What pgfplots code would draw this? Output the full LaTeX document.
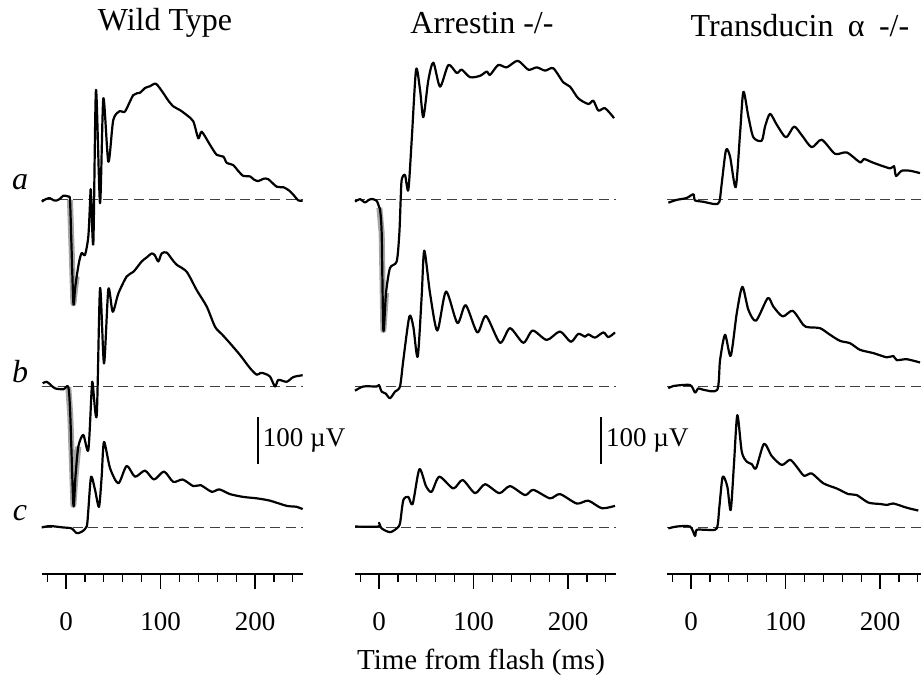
\documentclass[border=0pt]{standalone}
\usepackage{pgfplots}
\pgfplotsset{compat=1.18}
\usepackage{pgfplotstable}
\usepackage{fontspec}
\setmainfont{Liberation Serif}

% ---------- Wild Type ----------
\pgfplotstableread{
t v
-25.7 -3.6
-21 2
-17 3.6
-13 -1
-9.9 -1.4
-6 3
-2.8 9
2.5 7
4.2 0
5.5 -80
7.8 -220
9.5 -190
11.3 -163
14 -130
16.6 -113
20.1 -117
23.6 -78
25.4 -7
26.3 21
28.9 -92
31.7 234
36 -7
39.5 216
44.8 81
50 170
57 189
62.4 188
71.2 223
78.3 228
83.6 238
89 242
95.2 247
103 227
108 212
113.5 199
120.6 191
128 180
134.7 167
140 131
143.6 145
152.4 117
159.4 96
166.5 92
170 79
177 74
182 62
187.6 51
194.7 50
199 43
203.5 40
209 45
214 44
223 28
230 27
236 20
240.5 11
245.8 -1
250.4 -2
}\WTa
\pgfplotstableread{
t v
-24.7 8
-20.4 11
-16 4
-11.6 -3
-2.8 -5
2.4 0
4.5 -60
7.8 -251
10 -190
13 -127
18.3 -102
23.6 -134
27.1 -6
28.2 8
32.5 -60
36 210
40.2 50
44.8 208
49.4 160
55.4 199
64.2 235
71.3 245
80.1 267
85 275
90.7 284
94 280
97.7 267
101.2 284
106.5 286
112 272
117.1 260
127.7 245
138.3 206
148.9 171
157.7 128
165 112
173.5 93
184.1 68
194.7 40
201.8 26
206 30
210.6 28
215.9 22
221.2 1
224.7 15
233.5 11
240.5 21
250.4 25
}\WTb
\pgfplotstableread{
t v
-25.7 -1
-17 2
-2.8 -1
5.9 -3
11.3 -13
16.6 -10
21.9 1
23.6 36
26.5 107
30.7 79
34.9 43
37.7 107
40.2 181
46.6 125
55.4 93
64.2 130
73 107
83.6 120
93.1 101
103.7 118
113.5 96
123.5 101
134.7 87
142.5 89
154.1 75
162.2 80
173.5 70
187.6 64
201.8 61
215.9 56
233.5 45
244.1 43
250.4 38
}\WTc
% ---------- Arrestin ----------
\pgfplotstableread{
t v
-25.4 -3.6
-20.1 1.4
-14.8 -5.6
-11 0
-7.8 2
-2.5 -2
0.4 -17
1.1 -21
2.8 -71
4.6 -277
7.4 -198
11.6 -145
18.7 -131
21.5 -71
22.9 0
24 43
27.5 53
31 21
34.6 128
39.2 277
43.4 234
46.9 176
52.2 255
57.5 292
64.6 241
73.4 287
82.2 270
87.5 277
96.3 261
106.9 264
114 273
117.5 266
126.2 287
135.1 282
146.8 296
158 277
166.9 282
175.7 275
184.4 280
195 250
202.1 241
210.9 216
221.5 204
226.8 211
232.1 190
239.2 195
248.7 174
}\ARa
\pgfplotstableread{
t v
-25.4 -8
-16.6 1
-2.5 1
0 4
2.8 -10
7 -14
11.6 -24
16.9 -10
22.2 1
25.7 57
32.1 150
36.3 128
40.9 64
45.1 192
47.9 290
54 199
61.7 120
70.9 203
82.9 136
91.7 174
104 116
113.2 151
128 94
138.6 125
152.7 94
162.6 120
177.5 100
191.5 118
202.9 96
210.9 113
218 107
221.5 112
228.6 105
237.4 116
242.7 106
249.7 116
}\ARb
\pgfplotstableread{
t v
-25.4 1
-0.7 1
0 9
2.8 -3
11.6 -11
18.7 -3
22.2 8
25.7 57
31 64
35.6 49
42.7 123
49.7 87
55.7 75
63.8 107
78.6 82
88.5 100
101.6 72
112.2 91
127.3 72
138.6 87
154.5 68
163.3 79
180.9 61
191.5 70
209.2 50
221.5 56
235.7 40
249.7 45
}\ARc
% ---------- Transducin ----------
\pgfplotstableread{
t v
-24 -6
-15.2 0
-4.6 4
2.5 12
4.2 -1
13 -4
25.4 -9
30 -4
32.5 35
37 106
41.3 92
47.3 27
51.9 142
55.4 230
60.7 177
66 133
74.8 126
78.3 156
83.6 183
90.7 160
100.5 133
109 156
117.1 138
127.7 112
138.3 128
152.4 98
164.8 101
178.8 80
183 87
192.9 79
210.6 67
214.8 72
216.9 51
222.9 62
231.7 62
242.3 57
}\TRa
\pgfplotstableread{
t v
-24 -3
-18.7 2
-1 4
4.2 -12
7.7 -3
13 -6
27.8 -6
30.7 57
36 111
42 66
48.4 157
54.3 213
60.7 164
68.8 141
81.2 189
87.1 171
97 150
107.6 162
118.8 132
124.1 127
136.5 125
147.1 111
157.7 98
168.3 93
178.8 79
192.9 72
207.1 63
214.1 66
217.7 57
228.3 59
242.3 52
}\TRb
\pgfplotstableread{
t v
-24 -3
-15.2 1
-1 1
4.2 -19
6 -6
16.6 -6
27.2 -3
30 43
33.5 107
38.4 86
42 36
45.5 136
49 238
53.7 160
59 139
64.2 134
68.8 125
77.2 177
85.4 151
96 132
104.8 143
111.9 128
119.6 109
127.7 114
140 93
154.1 82
166.5 70
175.3 68
187.6 52
200 49
207.7 47
214.1 50
228.3 41
240.5 35
}\TRc

\pgfplotsset{
  erg/.style={
    x=0.4725pt, y=0.235pt,
    xmin=-25, xmax=251, ymin=-100, ymax=1000,
    axis x line*=bottom, axis y line=none,
    x axis line style={-, line width=0.6pt},
    clip=false,
    xtick={0,100,200},
    minor xtick={-20,20,40,60,80,120,140,160,180,220,240},
    tick align=outside,
    major tick length=7.5pt, minor tick length=4pt,
    every tick/.style={black, line width=0.6pt},
    xticklabel style={font=\fontsize{13.5}{13.5}\selectfont, yshift=-8pt},
    /pgf/number format/assume math mode=true,
    anchor=south west,
  },
  trace/.style={black, line width=1.1pt, line join=round, smooth, tension=0.45},
  halo/.style={black!35, line width=3pt, line join=round},
  base/.style={black!75, line width=0.5pt, dash pattern=on 5pt off 2.6pt},
}

\begin{document}
\begin{tikzpicture}
\path[use as bounding box] (0,0) rectangle (460.5pt,338.5pt);

% Wild Type
\begin{axis}[erg, at={(21.2pt,51.5pt)}]
\addplot[base] coordinates {(-25,696) (251,696)};
\addplot[base] coordinates {(-25,298) (251,298)};
\addplot[base] coordinates {(-25,0) (251,0)};
\addplot[halo] coordinates {(4.2,696) (5.5,616) (7.8,476) (9.5,506) (11.3,533)};
\addplot[halo] coordinates {(2.4,298) (4.5,238) (7.8,47) (10,108) (13,171)};
\addplot[trace] table[x=t, y expr=\thisrow{v}+696] {\WTa};
\addplot[trace] table[x=t, y expr=\thisrow{v}+298] {\WTb};
\addplot[trace] table[x=t, y expr=\thisrow{v}] {\WTc};
\addplot[black, line width=1pt] coordinates {(203.2,134) (203.2,234)};
\node[anchor=west, font=\fontsize{13.5}{13.5}\selectfont, inner sep=0pt] at (axis cs:208,184) {100 µV};
\end{axis}

% Arrestin
\begin{axis}[erg, at={(177.7pt,51.5pt)}]
\addplot[base] coordinates {(-25,696) (251,696)};
\addplot[base] coordinates {(-25,298) (251,298)};
\addplot[base] coordinates {(-25,0) (251,0)};
\addplot[halo] coordinates {(0.4,679) (2.8,625) (4.6,419) (7.4,498)};
\addplot[trace] table[x=t, y expr=\thisrow{v}+696] {\ARa};
\addplot[trace] table[x=t, y expr=\thisrow{v}+298] {\ARb};
\addplot[trace] table[x=t, y expr=\thisrow{v}] {\ARc};
\addplot[black, line width=1pt] coordinates {(234.9,134) (234.9,234)};
\node[anchor=west, font=\fontsize{13.5}{13.5}\selectfont, inner sep=0pt] at (axis cs:240,184) {100 µV};
\end{axis}

% Transducin
\begin{axis}[erg, at={(333.7pt,51.5pt)}, xmax=243]
\addplot[base] coordinates {(-25,696) (243,696)};
\addplot[base] coordinates {(-25,298) (243,298)};
\addplot[base] coordinates {(-25,0) (243,0)};
\addplot[trace] table[x=t, y expr=\thisrow{v}+696] {\TRa};
\addplot[trace] table[x=t, y expr=\thisrow{v}+298] {\TRb};
\addplot[trace] table[x=t, y expr=\thisrow{v}] {\TRc};
\end{axis}

% titles and labels
\node[font=\fontsize{16}{16}\selectfont] at (82.5pt,327pt) {Wild Type};
\node[font=\fontsize{16}{16}\selectfont] at (241pt,327pt) {Arrestin -/-};
\node[font=\fontsize{16}{16}\selectfont] at (400pt,325.5pt) {Transducin\hspace{0.45em}α\hspace{0.45em}-/-};
\node[font=\fontsize{16}{16}\itshape\selectfont] at (10pt,247.5pt) {a};
\node[font=\fontsize{16}{16}\itshape\selectfont] at (10pt,152.5pt) {b};
\node[font=\fontsize{16}{16}\itshape\selectfont] at (10pt,82pt) {c};
\node[font=\fontsize{14.5}{14.5}\selectfont, anchor=base] at (240.5pt,3.6pt) {Time from flash (ms)};
\end{tikzpicture}
\end{document}
